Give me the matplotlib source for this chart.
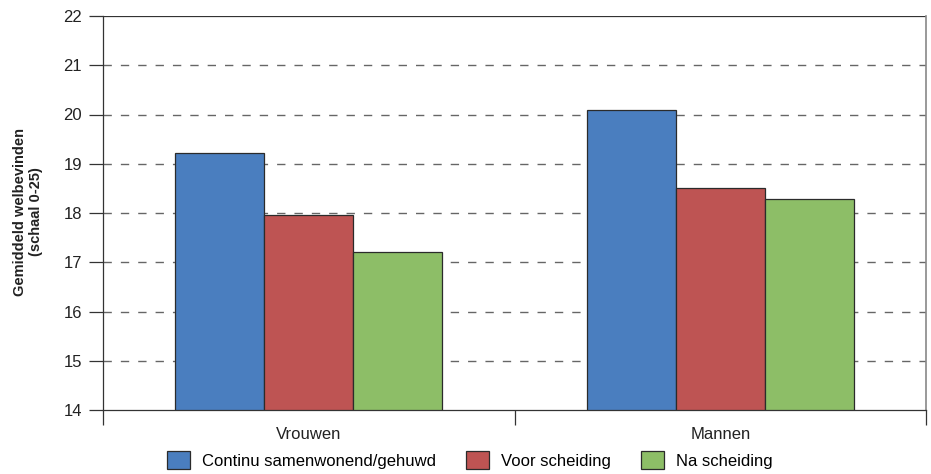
import matplotlib
matplotlib.use("Agg")
import matplotlib.pyplot as plt
import numpy as np
from matplotlib.patches import Patch

categories = ["Vrouwen", "Mannen"]
series = ["Continu samenwonend/gehuwd", "Voor scheiding", "Na scheiding"]
values = {
    "Continu samenwonend/gehuwd": [19.22, 20.09],
    "Voor scheiding": [17.96, 18.51],
    "Na scheiding": [17.21, 18.28],
}
colors = ["#4a7ebf", "#be5453", "#8dbe67"]
yticks = [14, 15, 16, 17, 18, 19, 20, 21, 22]

plt.rcParams['font.family'] = ['Liberation Sans', 'DejaVu Sans']

fig = plt.figure(figsize=(9.31, 4.74), dpi=100)
ax = fig.add_axes([103/931, 1-410/474, (926-103)/931, (410-16)/474])

x = np.arange(len(categories))
w = 0.2166
for i, s in enumerate(series):
    ax.bar(x + (i-1)*w, np.array(values[s]) - 14, bottom=14, width=w,
           color=colors[i], edgecolor="#2b2b2b", linewidth=0.9, zorder=3)

ax.set_ylim(14, 22)
ax.set_xlim(-0.5, 1.5)
ax.set_yticks(yticks)
ax.set_yticklabels([str(t) for t in yticks], fontsize=12, color="#222222")
for t in yticks[1:-1]:
    ax.axhline(t, color="#666666", linestyle=(0, (6, 6.5)), linewidth=1.0, zorder=1)
ax.axhline(22, color="#333333", linewidth=0.9, zorder=1)

ax.set_xticks([-0.5, 0.5, 1.5])
ax.set_xticklabels([])
ax.tick_params(axis='x', direction='out', length=11, width=0.9, color="#333333")
ax.tick_params(axis='y', direction='out', length=10, width=0.9, color="#333333", pad=5)
for i, c in enumerate(categories):
    ax.text(x[i], 13.5, c, ha='center', va='center', fontsize=12, color="#222222",
            transform=ax.transData)

ax.spines["top"].set_visible(False)
ax.spines["right"].set_color("#888888")
ax.spines["right"].set_linewidth(1.2)
for sp in ["left", "bottom"]:
    ax.spines[sp].set_color("#333333")
    ax.spines[sp].set_linewidth(0.9)

fig.text(28/931, 1-212/474, "Gemiddeld welbevinden\n(schaal 0-25)", rotation=90,
         ha='center', va='center', fontsize=10.5, fontweight='bold', color="#222222",
         multialignment='center', linespacing=1.25)

handles = [Patch(facecolor=colors[i], edgecolor="#2b2b2b", linewidth=0.9, label=s)
           for i, s in enumerate(series)]
fig.legend(handles=handles, loc='center', bbox_to_anchor=(470/931, 1-460/474), ncol=3,
           frameon=False, fontsize=12, handlelength=1.35, handleheight=1.35,
           handletextpad=0.75, columnspacing=1.8)

fig.savefig("out.png", dpi=100)
